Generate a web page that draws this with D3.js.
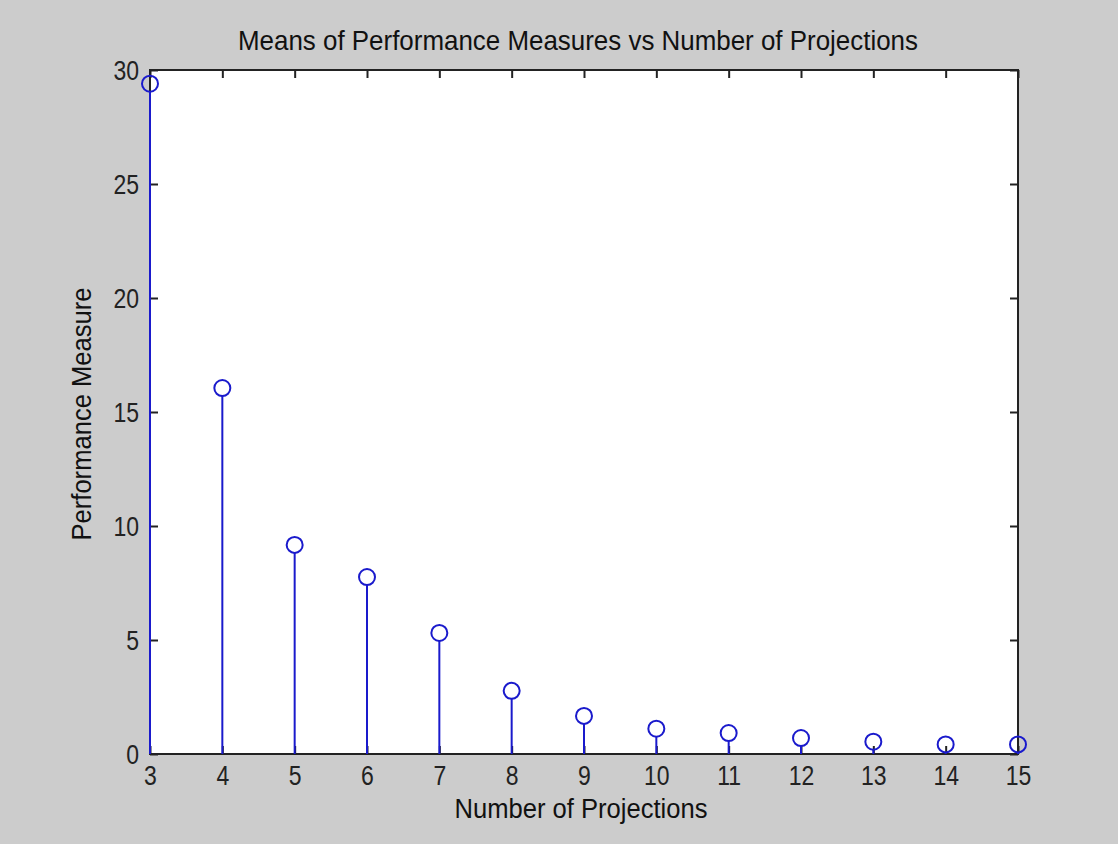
<!DOCTYPE html>
<html><head><meta charset="utf-8">
<script src="https://cdn.jsdelivr.net/npm/d3@7"></script>
<style>body{margin:0;background:#cccccc;}svg{display:block;}</style>
</head><body>
<script>
const projections = [3,4,5,6,7,8,9,10,11,12,13,14,15];
const measures = [29.4,16.05,9.17,7.76,5.31,2.77,1.67,1.11,0.92,0.70,0.54,0.42,0.42];
const xTicks = [3,4,5,6,7,8,9,10,11,12,13,14,15];
const yTicks = [0,5,10,15,20,25,30];
const titleText = "Means of Performance Measures vs Number of Projections";
const xLabel = "Number of Projections";
const yLabel = "Performance Measure";

const W=1118,H=844;
const m={l:150,r:1018,t:70,b:754};
const sy=1.2;
const svg=d3.select("body").append("svg").attr("width",W).attr("height",H);
svg.append("rect").attr("width",W).attr("height",H).attr("fill","#cccccc");
const x=d3.scaleLinear().domain([3,15]).range([m.l,m.r]);
const y=d3.scaleLinear().domain([0,30]).range([m.b,m.t]);
const font="'Liberation Sans', Arial, sans-serif";

svg.append("rect").attr("x",m.l).attr("y",m.t).attr("width",m.r-m.l).attr("height",m.b-m.t)
  .attr("fill","#fff").attr("stroke","#222").attr("stroke-width",2);

const tl=8;
const axB=svg.append("g").attr("transform",`translate(0,${m.b})`)
  .call(d3.axisBottom(x).tickValues(xTicks).tickSizeInner(-tl).tickSizeOuter(0).tickFormat(d3.format("d")));
const axT=svg.append("g").attr("transform",`translate(0,${m.t})`)
  .call(d3.axisTop(x).tickValues(xTicks).tickSizeInner(-tl).tickSizeOuter(0).tickFormat(""));
const axL=svg.append("g").attr("transform",`translate(${m.l},0)`)
  .call(d3.axisLeft(y).tickValues(yTicks).tickSizeInner(-tl).tickSizeOuter(0).tickFormat(d3.format("d")));
const axR=svg.append("g").attr("transform",`translate(${m.r},0)`)
  .call(d3.axisRight(y).tickValues(yTicks).tickSizeInner(-tl).tickSizeOuter(0).tickFormat(""));
[axB,axT,axL,axR].forEach(a=>{
  a.select(".domain").remove();
  a.selectAll(".tick line").attr("stroke","#222").attr("stroke-width",2);
  a.selectAll("text").attr("fill","#222").style("font-family",font).style("font-size","23px");
});
axB.selectAll("text").attr("y",0).attr("dy",null).attr("transform",`translate(0,31) scale(1,${sy})`);
axL.selectAll("text").attr("x",0).attr("dy","0.36em").attr("transform",`translate(-11,0) scale(1,${sy})`);

const g=svg.append("g");
g.selectAll("line.stem").data(projections).join("line").attr("class","stem")
  .attr("x1",(d)=>x(d)).attr("x2",(d)=>x(d))
  .attr("y1",y(0)).attr("y2",(d,i)=>y(measures[i])+8)
  .attr("stroke","#1a1acc").attr("stroke-width",2);
g.selectAll("circle").data(projections).join("circle")
  .attr("cx",(d)=>x(d)).attr("cy",(d,i)=>y(measures[i])).attr("r",8)
  .attr("fill","none").attr("stroke","#1a1acc").attr("stroke-width",2);

svg.append("text").attr("transform",`translate(578,50) scale(1,1.25)`).attr("text-anchor","middle")
  .attr("textLength",680).attr("lengthAdjust","spacingAndGlyphs")
  .style("font-family",font).style("font-size","22px").attr("fill","#111").text(titleText);
svg.append("text").attr("transform",`translate(581,818) scale(1,1.25)`).attr("text-anchor","middle")
  .attr("textLength",253).attr("lengthAdjust","spacingAndGlyphs")
  .style("font-family",font).style("font-size","22px").attr("fill","#111").text(xLabel);
svg.append("text").attr("transform",`translate(91,414) rotate(-90) scale(1,1.25)`).attr("text-anchor","middle")
  .attr("textLength",253).attr("lengthAdjust","spacingAndGlyphs")
  .style("font-family",font).style("font-size","22px").attr("fill","#111").text(yLabel);
</script>
</body></html>
